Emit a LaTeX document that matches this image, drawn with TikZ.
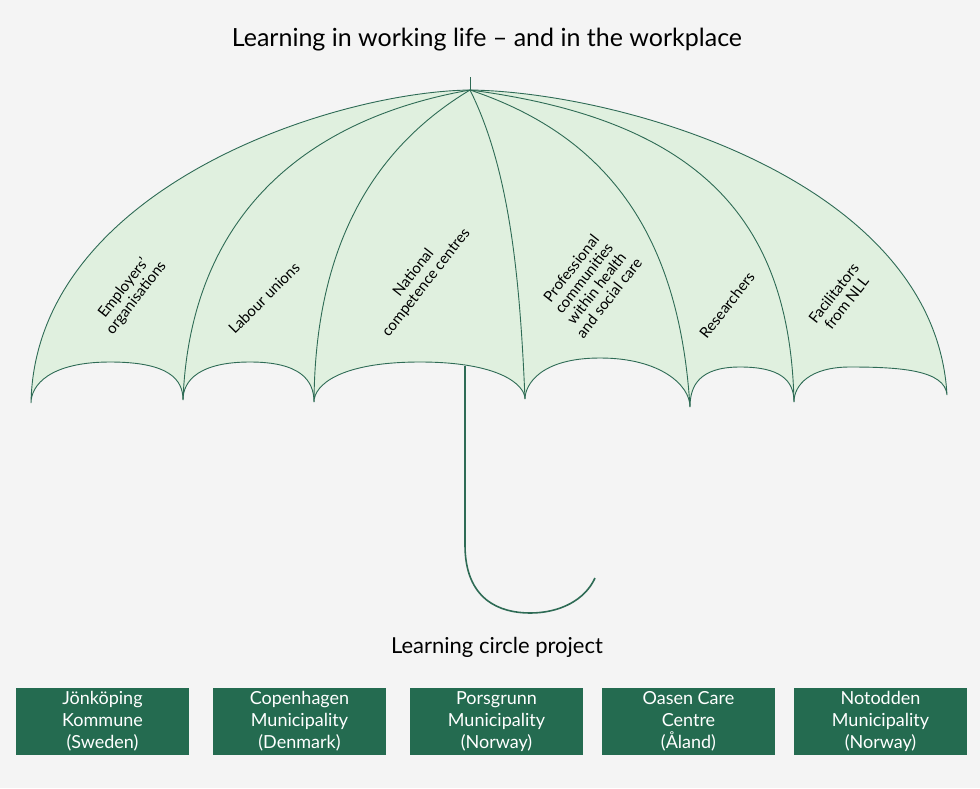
\documentclass[tikz,border=0pt]{standalone}
\usepackage{fontspec}
\setmainfont{Lato}
\begin{document}
\begin{tikzpicture}[x=1pt,y=-1pt,
 ln/.style={draw=uline,line width=0.9pt},
 lab/.style={font=\fontsize{15}{16}\selectfont,align=center,rotate=52},
 box/.style={fill=boxg,minimum width=173pt,minimum height=67pt,text=white,font=\fontsize{18}{22}\selectfont,align=center,inner sep=0pt}]
\definecolor{bg}{HTML}{F4F4F4}\definecolor{uline}{HTML}{2E6B55}
\definecolor{ufill}{HTML}{E0F0DF}\definecolor{boxg}{HTML}{246B50}
\useasboundingbox[fill=bg] (0,0) rectangle (980,788);
\node[font=\fontsize{25}{28}\selectfont] (title) at (487,40) {Learning in working life -- and in the workplace};
\coordinate (tip) at (470,90);
\coordinate (p0) at (31,403);\coordinate (p1) at (183,400);\coordinate (p2) at (314,402);
\coordinate (p3) at (525,399);\coordinate (p4) at (690,407);\coordinate (p5) at (794,402);\coordinate (p6) at (947,395);
\def\canopy{(p0) .. controls (35,190) and (330,92) .. (tip) .. controls (620,92) and (935,180) .. (p6)
 .. controls (945,370) and (900,367) .. (850,367) .. controls (810,367) and (794,385) .. (p5)
 .. controls (794,380) and (780,367) .. (740,367) .. controls (700,367) and (690,385) .. (p4)
 .. controls (690,385) and (660,358) .. (600,358) .. controls (540,358) and (525,385) .. (p3)
 .. controls (525,385) and (500,362) .. (420,362) .. controls (340,362) and (314,385) .. (p2)
 .. controls (314,380) and (300,362) .. (250,362) .. controls (200,362) and (183,380) .. (p1)
 .. controls (183,380) and (170,362) .. (110,362) .. controls (50,362) and (31,385) .. (p0)}
\fill[ufill] \canopy;
\draw[ln] \canopy;
\draw[ln] (tip) .. controls (300,120) and (190,220) .. (p1);
\draw[ln] (tip) .. controls (370,150) and (315,250) .. (p2);
\draw[ln] (tip) .. controls (510,170) and (520,280) .. (p3);
\draw[ln] (tip) .. controls (620,140) and (680,250) .. (p4);
\draw[ln] (tip) .. controls (700,120) and (790,220) .. (p5);
\draw[ln] (tip) -- (470,77);
\coordinate (h0) at (465,366);
\draw[ln,line width=1.6pt] (h0) -- (465,545) .. controls (465,600) and (500,613) .. (530,613) .. controls (560,613) and (585,600) .. (595,578);
\node[lab] (l1) at (130,293) {Employers'\\organisations};
\node[lab,rotate=-7] (l2) at (264,298) {Labour unions};
\node[lab] (l3) at (420,278) {National\\competence centres};
\node[lab] (l4) at (590,283) {Professional\\communities\\within health\\and social care};
\node[lab] (l5) at (727,305) {Researchers};
\node[lab] (l6) at (840,298) {Facilitators\\from NLL};
\node[font=\fontsize{22}{24}\selectfont] (proj) at (497,647) {Learning circle project};
\node[box] (b1) at (102.5,721.5) {Jönköping\\Kommune\\(Sweden)};
\node[box] (b2) at (299.5,721.5) {Copenhagen\\Municipality\\(Denmark)};
\node[box] (b3) at (496.5,721.5) {Porsgrunn\\Municipality\\(Norway)};
\node[box] (b4) at (688.5,721.5) {Oasen Care\\Centre\\(Åland)};
\node[box] (b5) at (880.5,721.5) {Notodden\\Municipality\\(Norway)};
\end{tikzpicture}
\end{document}
